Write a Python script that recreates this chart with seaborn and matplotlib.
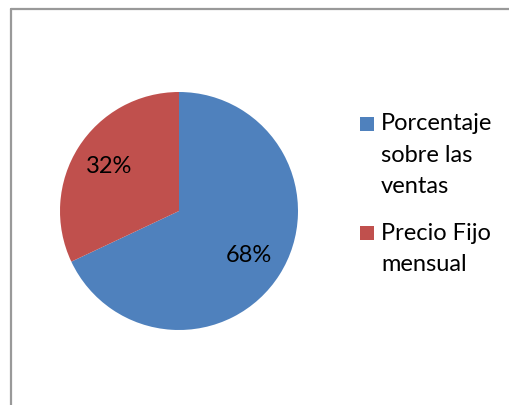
import matplotlib
matplotlib.use("Agg")
import matplotlib.pyplot as plt
import seaborn as sns
from matplotlib.patches import Rectangle
from matplotlib.lines import Line2D

# Datos del gráfico
categorias = ["Porcentaje\nsobre las\nventas", "Precio Fijo\nmensual"]
valores = [68, 32]
colores = ["#4F81BD", "#C0504D"]

sns.set_theme(style="white")
plt.rcParams["font.family"] = ["Lato", "DejaVu Sans"]

W, H = 509, 405
fig = plt.figure(figsize=(W / 100, H / 100), dpi=100)
fig.patch.set_facecolor("white")

# Borde del área del gráfico (sólo se ven arriba e izquierda)
borde = dict(transform=fig.transFigure, color="#999999", linewidth=1.6)
fig.lines.append(Line2D([10.5 / W, 10.5 / W], [0, (H - 8.5) / H], **borde))
fig.lines.append(Line2D([10.5 / W, 1.01], [(H - 8.5) / H, (H - 8.5) / H], **borde))

# Pastel: centro (179, 211), radio 119 px
cx, cy, r = 179, 211, 119
ax = fig.add_axes([(cx - r) / W, (H - cy - r) / H, 2 * r / W, 2 * r / H])
wedges, _, autotexts = ax.pie(valores, colors=colores, startangle=90,
                              counterclock=False, autopct="%1.0f%%",
                              pctdistance=0.7, radius=1,
                              textprops={"fontsize": 17, "color": "black"},
                              wedgeprops={"linewidth": 0})
ax.set_xlim(-1, 1)
ax.set_ylim(-1, 1)
ax.set_aspect("equal")
ax.axis("off")

# Leyenda (marcador alineado con la primera línea)
y_inicio = [124, 233]
for color, texto, y0 in zip(colores, categorias, y_inicio):
    fig.patches.append(Rectangle((360 / W, (H - y0 - 7) / H), 14 / W, 14 / H,
                                 transform=fig.transFigure, facecolor=color,
                                 edgecolor="none"))
    for i, linea in enumerate(texto.split("\n")):
        fig.text(381 / W, (H - y0 - i * 31.5) / H, linea, fontsize=17,
                 va="center", ha="left", color="black")

fig.savefig("out.png", dpi=100)
